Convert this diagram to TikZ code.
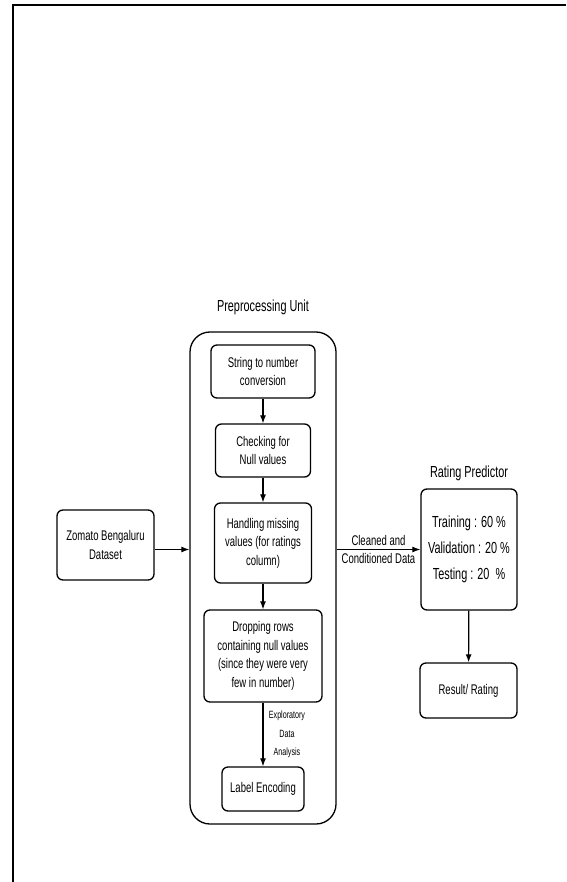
\documentclass[tikz,border=0pt]{standalone}
\usepackage{fontspec}
\setmainfont[FakeStretch=0.68]{Liberation Sans}
\usetikzlibrary{arrows.meta}
\begin{document}
\begin{tikzpicture}[
    x=1pt,y=-1pt,
    every node/.style={font=\fontsize{14}{18.5}\selectfont},
    stage/.style={draw,rounded corners=6pt,line width=1.3pt,align=center,inner sep=2pt},
    unitbox/.style={draw,rounded corners=20pt,line width=1.3pt},
    heading/.style={font=\fontsize{16}{19}\selectfont},
    flow/.style={-{Latex[length=8pt,width=6pt]},line width=1.2pt}
]
\useasboundingbox (0,0) rectangle (566,882);
\draw[line width=2.5pt] (13,882) -- (13,5) -- (566,5);

\node[heading] (pu) at (263,307) {Preprocessing Unit};
\node[unitbox,minimum width=146pt,minimum height=492pt] (unit) at (263,578) {};
\node[stage,minimum width=104pt,minimum height=53pt] (s1) at (263,371.5) {String to number\\conversion};
\node[stage,minimum width=95pt,minimum height=53pt]  (s2) at (263,450.5) {Checking for\\Null values};
\node[stage,minimum width=97pt,minimum height=80pt]  (s3) at (263,543)   {Handling missing\\values (for ratings\\column)};
\node[stage,minimum width=118pt,minimum height=92pt] (s4) at (263,656)   {Dropping rows\\containing null values\\(since they were very\\few in number)};
\node[stage,minimum width=82pt,minimum height=44pt]  (s5) at (263,789)   {Label Encoding};

\node[stage,minimum width=97pt,minimum height=70pt] (zd) at (105.5,545) {Zomato Bengaluru\\Dataset};

\node[heading] (rp) at (469,473) {Rating Predictor};
\node[stage,font=\fontsize{16}{26}\selectfont,minimum width=96pt,minimum height=121pt] (pred) at (469,549.5) {Training : 60 \%\\Validation : 20 \%\\Testing : 20\ \ \%};
\node[stage,minimum width=97pt,minimum height=55pt] (res) at (468.5,690.5) {Result/ Rating};

\draw[flow] (s1) -- (s2);
\draw[flow] (s2) -- (s3);
\draw[flow] (s3) -- (s4);
\draw[flow] (s4) -- node[right=2pt,align=center,font=\fontsize{10.5}{18.5}\selectfont] {Exploratory\\Data\\Analysis} (s5);
\draw[flow] (zd.east |- pred.west) -- (pred.west -| unit.west);
\draw[flow] (pred.west -| unit.east) -- node[above] {Cleaned and} node[below] {Conditioned Data} (pred.west);
\draw[flow] (pred) -- (res);
\end{tikzpicture}
\end{document}
